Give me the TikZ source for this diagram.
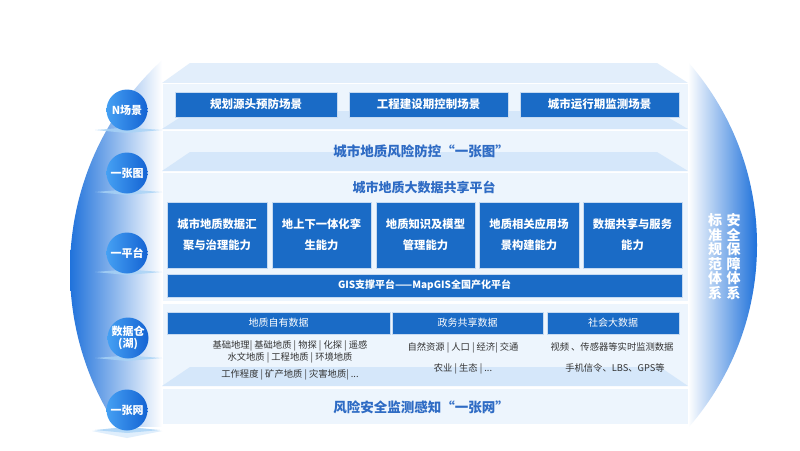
\documentclass[tikz,border=0pt]{standalone}
\usepackage{fontspec}
\setmainfont{Noto Sans CJK SC}
\definecolor{boxblue}{HTML}{1A6BC6}
\definecolor{panel}{HTML}{EDF5FD}
\definecolor{topf}{HTML}{E2EEFB}
\definecolor{band}{HTML}{D5E7FA}
\definecolor{titleblue}{HTML}{2E6BC4}
\definecolor{datatext}{HTML}{333333}
\definecolor{cresc}{HTML}{1B6FDA}
\definecolor{crescmid}{HTML}{9CC6F2}
\definecolor{circlight}{HTML}{45A0F3}
\definecolor{circdark}{HTML}{1463D3}
\definecolor{lens}{HTML}{A8D3F6}
\begin{document}
\begin{tikzpicture}[x=1pt,y=-1pt,
  layerbox/.style={fill=panel, draw=white, line width=0.8pt},
  bandface/.style={fill=band},
  bluebox/.style={fill=boxblue, draw=white!75!boxblue, line width=0.5pt, text=white, inner sep=0pt, align=center},
  scenebox/.style={bluebox, font=\bfseries\fontsize{11.5}{13}\selectfont, minimum height=25pt},
  capbox/.style={bluebox, font=\bfseries\fontsize{11.3}{21}\selectfont, minimum height=66pt, minimum width=99.5pt},
  databox/.style={bluebox, font=\fontsize{10}{12}\selectfont, minimum height=22pt},
  datatxt/.style={text=datatext, font=\fontsize{9.3}{11}\selectfont, inner sep=0pt},
  titletxt/.style={text=titleblue, font=\bfseries\fontsize{13.5}{15}\selectfont, inner sep=0pt},
  circ/.style={circle, minimum size=41pt, inner sep=0pt, left color=circlight, right color=circdark, text=white, align=center, font=\bfseries\fontsize{11}{12.5}\selectfont},
  lensshape/.style={fill=lens, opacity=0.8},
  sidetxt/.style={text=white, font=\bfseries\fontsize{14}{14.5}\selectfont, align=center, inner sep=0pt}
]
\useasboundingbox (0,0) rectangle (800,450);
\fill[white] (0,0) rectangle (800,450);

% left crescent
\begin{scope}
\clip (0,0) rectangle (162,426);
\clip (355,270) circle (285);
\shade[left color=cresc, middle color=crescmid, right color=white] (68,50) rectangle (162,430);
\end{scope}

% right crescent
\begin{scope}
\clip (688,0) rectangle (800,450);
\clip (480,245) circle (277);
\shade[left color=white, middle color=crescmid, right color=cresc] (688,50) rectangle (758,440);
\end{scope}

% panel layers
\fill[topf] (190,63) -- (657,63) -- (688,83) -- (162,83) -- cycle;
\path[layerbox] (162,83) rectangle (688,129);
\fill[bandface] (190,111) -- (657,111) -- (688,129) -- (162,129) -- cycle;
\path[layerbox] (162,130) rectangle (688,171);
\fill[bandface] (190,152) -- (657,152) -- (688,171) -- (162,171) -- cycle;
\path[layerbox] (162,172) rectangle (688,301);
\path[layerbox] (162,303) rectangle (688,386);
\fill[bandface] (190,367) -- (660,367) -- (688,386) -- (162,386) -- cycle;
\path[layerbox] (162,388) rectangle (688,424);

% lenses under circles
\foreach \yy in {130,192,272,358}{
  \fill[lensshape] (95,\yy) -- (127,\yy-2.5) -- (162,\yy) -- (127,\yy+3) -- cycle;
}
\fill[lens!60, opacity=0.6] (92,431) -- (127,426) -- (162,431) -- (127,438) -- cycle;
\fill[lensshape] (95,430) -- (127,427) -- (160,430) -- (127,433) -- cycle;

% circles
\node[circ] (c1) at (127,110) {N场景};
\node[circ] (c2) at (127,173) {一张图};
\node[circ] (c3) at (127,253) {一平台};
\node[circ] (c4) at (128,338) {数据仓\\(湖)};
\node[circ] (c5) at (127,410) {一张网};

% scenes
\node[scenebox, minimum width=162pt] (s1) at (256,104.5) {规划源头预防场景};
\node[scenebox, minimum width=159pt] (s2) at (428.5,104.5) {工程建设期控制场景};
\node[scenebox, minimum width=159pt] (s3) at (599.5,104.5) {城市运行期监测场景};

% titles
\node[titletxt] (t2) at (421,151) {城市地质风险防控“一张图”};
\node[titletxt, font=\bfseries\fontsize{13}{15}\selectfont] (t3) at (424,187) {城市地质大数据共享平台};
\node[titletxt] (t5) at (421,407) {风险安全监测感知“一张网”};

% capabilities
\node[capbox] (b1) at (217,235) {城市地质数据汇\\聚与治理能力};
\node[capbox] (b2) at (321.5,235) {地上下一体化孪\\生能力};
\node[capbox] (b3) at (425.5,235) {地质知识及模型\\管理能力};
\node[capbox] (b4) at (529,235) {地质相关应用场\\景构建能力};
\node[capbox] (b5) at (632.5,235) {数据共享与服务\\能力};

\node[bluebox, font=\bfseries\fontsize{10}{12}\selectfont, minimum width=515pt, minimum height=23pt] (gis) at (424.5,285.5) {GIS支撑平台——MapGIS全国产化平台};

% data
\node[databox, minimum width=223pt] (d1) at (278.5,323) {地质自有数据};
\node[databox, minimum width=151pt] (d2) at (467.5,323) {政务共享数据};
\node[databox, minimum width=132pt] (d3) at (613,323) {社会大数据};

\node[datatxt] (l1a) at (290,346) {基础地理| 基础地质 | 物探 | 化探 | 遥感};
\node[datatxt] (l1b) at (290,358) {水文地质 | 工程地质 | 环境地质};
\node[datatxt] (l1c) at (290,375) {工作程度 | 矿产地质 | 灾害地质| ...};
\node[datatxt] (l2a) at (463,348) {自然资源 | 人口 | 经济| 交通};
\node[datatxt] (l2b) at (463,369) {农业 | 生态 | ...};
\node[datatxt] (l3a) at (612,347) {视频 、传感器等实时监测数据};
\node[datatxt] (l3b) at (615,368) {手机信令、LBS、GPS等};

% side text
\node[sidetxt] (r1) at (733.5,256.5) {安\\全\\保\\障\\体\\系};
\node[sidetxt] (r2) at (715,256.5) {标\\准\\规\\范\\体\\系};
\end{tikzpicture}
\end{document}
